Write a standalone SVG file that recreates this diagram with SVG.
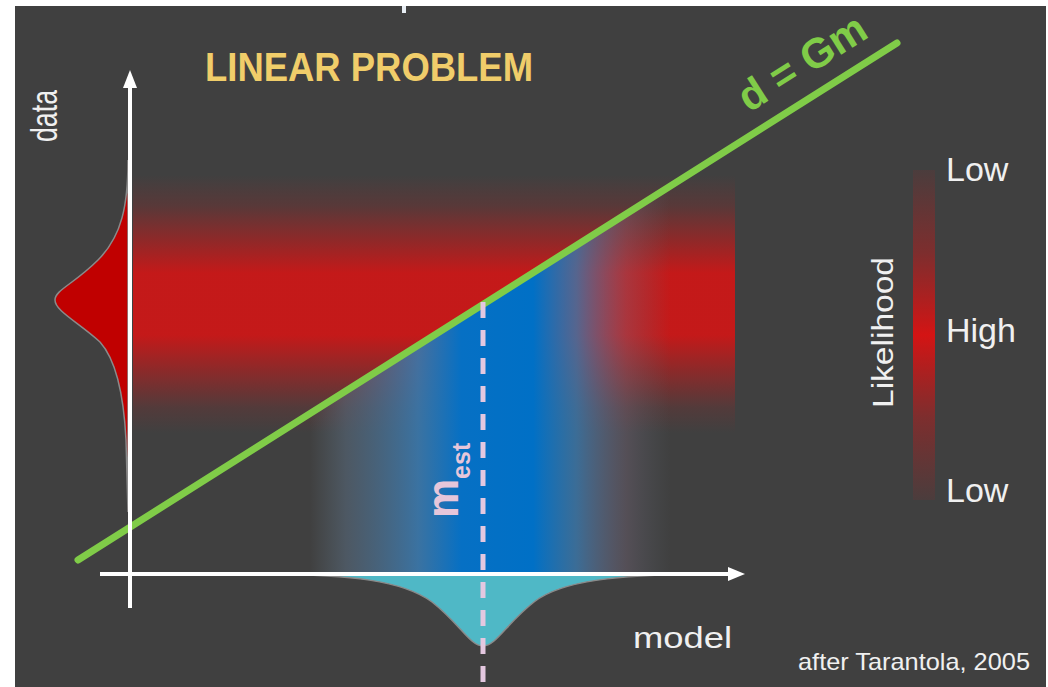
<svg xmlns="http://www.w3.org/2000/svg" width="1048" height="687" viewBox="0 0 1048 687">
<defs>
<linearGradient id="redBand" x1="0" y1="0" x2="0" y2="1">
<stop offset="0" stop-color="#c81818" stop-opacity="0"/>
<stop offset="0.12" stop-color="#c81818" stop-opacity="0.18"/>
<stop offset="0.26" stop-color="#c81818" stop-opacity="0.6"/>
<stop offset="0.38" stop-color="#c81818" stop-opacity="0.97"/>
<stop offset="0.62" stop-color="#c81818" stop-opacity="0.97"/>
<stop offset="0.76" stop-color="#c81818" stop-opacity="0.55"/>
<stop offset="0.9" stop-color="#c81818" stop-opacity="0.14"/>
<stop offset="1" stop-color="#c81818" stop-opacity="0"/>
</linearGradient>
<linearGradient id="blueBand" x1="0" y1="0" x2="1" y2="0">
<stop offset="0" stop-color="#5c6c78" stop-opacity="0"/>
<stop offset="0.1" stop-color="#56687a" stop-opacity="0.6"/>
<stop offset="0.3" stop-color="#3a78ac" stop-opacity="0.9"/>
<stop offset="0.42" stop-color="#0670c4" stop-opacity="1"/>
<stop offset="0.62" stop-color="#0070c6" stop-opacity="1"/>
<stop offset="0.74" stop-color="#3a78ac" stop-opacity="0.8"/>
<stop offset="0.88" stop-color="#7a6a80" stop-opacity="0.35"/>
<stop offset="1" stop-color="#5c6c78" stop-opacity="0"/>
</linearGradient>
<linearGradient id="legendBar" x1="0" y1="0" x2="0" y2="1">
<stop offset="0" stop-color="#c81818" stop-opacity="0.08"/>
<stop offset="0.25" stop-color="#c81818" stop-opacity="0.45"/>
<stop offset="0.5" stop-color="#d41414" stop-opacity="1"/>
<stop offset="0.75" stop-color="#c81818" stop-opacity="0.45"/>
<stop offset="1" stop-color="#c81818" stop-opacity="0.08"/>
</linearGradient>
<clipPath id="belowLine">
<polygon points="0,609.2 1048,-52.4 1048,687 0,687"/>
</clipPath>
<style>
.axis{stroke:#ffffff;stroke-width:4;fill:none}
.head{fill:#ffffff}
.lbl{font-family:"Liberation Sans",Arial,sans-serif;fill:#f0f0f0}
</style>
</defs>
<rect x="0" y="0" width="1048" height="687" fill="#ffffff"/>
<rect x="15" y="6" width="1031" height="681" fill="#404040"/>
<rect x="402" y="6" width="4" height="7" fill="#e8eef4"/>

<g id="likelihood-field">
<rect x="133" y="175" width="602" height="258" fill="url(#redBand)"/>
<rect x="310" y="150" width="360" height="423" fill="url(#blueBand)" clip-path="url(#belowLine)"/>
</g>

<g id="relation-line">
<line x1="78" y1="560" x2="897" y2="43" stroke="#80cc48" stroke-width="7" stroke-linecap="round"/>
<text transform="translate(749,113) rotate(-32.3)" font-family="Liberation Sans,Arial,sans-serif" font-weight="bold" font-size="42" fill="#80cc48">d = Gm</text>
</g>

<g id="data-distribution">
<path d="M128,160 C128,205 122,236 98,260 C74,284 55,290 55,300 C55,311 78,322 100,342 C118,362 124,400 126,440 L128,512 Z" fill="#c00000" stroke="#8a8a8a" stroke-width="1.5"/>
</g>

<g id="model-distribution">
<path d="M268,574 C350,575 402,580 432,602 C460,624 470,646 483,646 C496,646 506,624 534,602 C562,580 620,575 700,574 Z" fill="#4fb8c6" stroke="#8a8a8a" stroke-width="1.5"/>
</g>

<g id="axes">
<line class="axis" x1="130" y1="84" x2="130" y2="608"/>
<polygon class="head" points="130,70 123,88 137,88"/>
<line class="axis" x1="100" y1="574" x2="730" y2="574"/>
<polygon class="head" points="745,574 728,567 728,581"/>
</g>

<g id="m-est">
<line x1="483" y1="302" x2="483" y2="687" stroke="#e4c8e0" stroke-width="5" stroke-dasharray="16 12" stroke-linecap="butt"/>
<text transform="translate(458,518) rotate(-90)" font-family="Liberation Sans,Arial,sans-serif" font-weight="bold" font-size="44" fill="#e6c6da">m<tspan font-size="25" dy="12">est</tspan></text>
</g>

<g id="title">
<text x="205" y="81" font-family="Liberation Sans,Arial,sans-serif" font-weight="bold" font-size="41" fill="#f0cd6a" textLength="328" lengthAdjust="spacingAndGlyphs">LINEAR PROBLEM</text>
</g>

<g id="axis-labels">
<text class="lbl" transform="translate(57,142) rotate(-90)" font-size="36" textLength="52" lengthAdjust="spacingAndGlyphs">data</text>
<text class="lbl" x="633" y="648" font-size="30" textLength="99" lengthAdjust="spacingAndGlyphs">model</text>
<text class="lbl" x="798" y="670" font-size="24" textLength="232" lengthAdjust="spacingAndGlyphs">after Tarantola, 2005</text>
</g>

<g id="legend">
<rect x="913" y="170" width="22" height="330" fill="url(#legendBar)"/>
<text class="lbl" transform="translate(893,408) rotate(-90)" font-size="30" textLength="151" lengthAdjust="spacingAndGlyphs">Likelihood</text>
<text class="lbl" x="946" y="181" font-size="34">Low</text>
<text class="lbl" x="946" y="342" font-size="34">High</text>
<text class="lbl" x="946" y="502" font-size="34">Low</text>
</g>
</svg>
